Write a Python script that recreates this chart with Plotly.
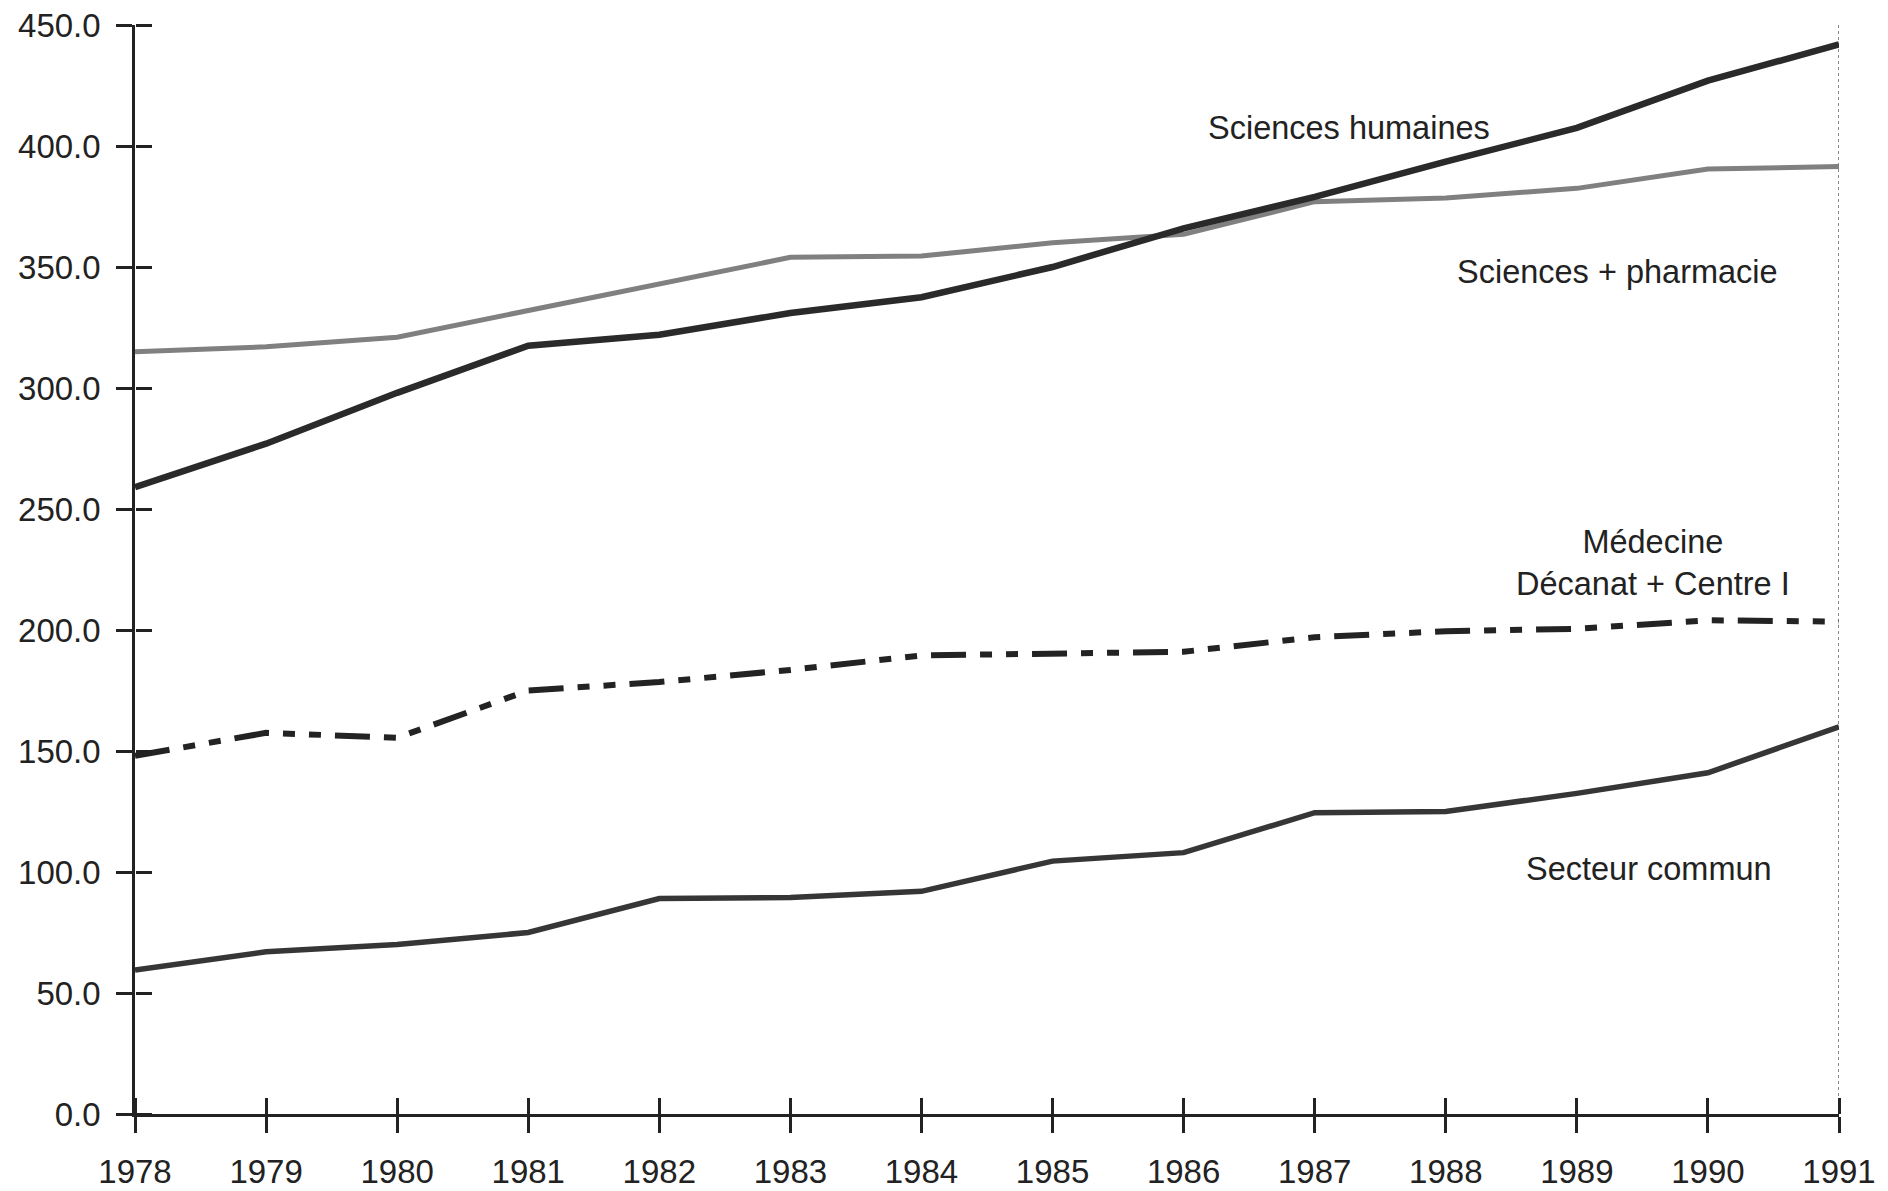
import plotly.graph_objects as go

years = list(range(1978, 1992))

sciences_humaines = [259, 277, 298, 317.5, 322, 331, 337.5, 350, 366, 379, 393.5, 407.5, 427, 442]
sciences_pharmacie = [315, 317, 321, 332, 342.5, 354, 354.5, 360, 363.5, 377, 378.5, 382.5, 390.5, 391.5]
medecine = [148, 157.5, 155.5, 175, 178.5, 183.5, 189.5, 190.5, 191, 197, 199.5, 200.5, 204, 203.5]
secteur_commun = [59.5, 67, 70, 75, 89, 89.5, 92, 104.5, 108, 124.5, 125, 132.5, 141, 160]

y_ticks = [0, 50, 100, 150, 200, 250, 300, 350, 400, 450]

labels = [
    ("Sciences humaines", 1987.26, 407.6),
    ("Sciences + pharmacie", 1989.31, 347.9),
    ("Médecine<br>Décanat + Centre I", 1989.58, 227.6),
    ("Secteur commun", 1989.55, 101.1),
]

FONT = "Liberation Sans, Arial, Helvetica, sans-serif"
INK = "#222222"

xr = [years[0], years[-1]]
yr = [y_ticks[0], y_ticks[-1]]

fig = go.Figure()

# dotted closing rule at the last year
fig.add_trace(go.Scatter(x=[years[-1], years[-1]], y=yr, mode="lines",
                         line=dict(color="#8a8a8a", width=2, dash="dot"),
                         showlegend=False, hoverinfo="skip"))
fig.add_trace(go.Scatter(x=years, y=sciences_pharmacie, mode="lines",
                         line=dict(color="#808080", width=5), showlegend=False))
fig.add_trace(go.Scatter(x=years, y=sciences_humaines, mode="lines",
                         line=dict(color="#2a2a2a", width=6.5), showlegend=False))
fig.add_trace(go.Scatter(x=years, y=medecine, mode="lines",
                         line=dict(color="#232323", width=6,
                                   dash="35px,14px,12px,14px,12px,14px"),
                         showlegend=False))
fig.add_trace(go.Scatter(x=years, y=secteur_commun, mode="lines",
                         line=dict(color="#363636", width=5.5), showlegend=False))
# helper (invisible) trace to activate the overlay axes used for crossing ticks
fig.add_trace(go.Scatter(x=[None], y=[None], xaxis="x2", yaxis="y2",
                         showlegend=False, hoverinfo="skip"))

for text, x, y in labels:
    fig.add_annotation(x=x, y=y, text=text, showarrow=False,
                       font=dict(family=FONT, size=32.5, color=INK),
                       xanchor="center", yanchor="middle", align="center")

fig.update_layout(
    width=1888, height=1191,
    margin=dict(l=135, r=49, t=25, b=77, autoexpand=False),
    paper_bgcolor="white", plot_bgcolor="white",
    font=dict(family=FONT, size=33, color=INK),
    xaxis=dict(range=xr, tickvals=years, ticktext=[str(v) for v in years],
               showgrid=False, zeroline=False, automargin=False,
               ticklabeloverflow="allow",
               showline=True, linecolor=INK, linewidth=2.5,
               ticks="outside", ticklen=16, tickwidth=2.5, tickcolor=INK,
               ticklabelstandoff=11,
               tickfont=dict(family=FONT, size=33, color=INK)),
    yaxis=dict(range=yr, tickvals=y_ticks, tickformat=".1f",
               showgrid=False, zeroline=False, automargin=False,
               ticklabeloverflow="allow",
               showline=True, linecolor=INK, linewidth=2.5,
               ticks="outside", ticklen=16, tickwidth=2.5, tickcolor=INK,
               ticklabelstandoff=9,
               tickfont=dict(family=FONT, size=33, color=INK)),
    xaxis2=dict(range=xr, tickvals=years, overlaying="x", anchor="free", position=0,
                side="top", automargin=False,
                showgrid=False, zeroline=False, showline=False,
                ticks="outside", ticklen=16, tickwidth=2.5, tickcolor=INK,
                showticklabels=False),
    yaxis2=dict(range=yr, tickvals=y_ticks, overlaying="y", anchor="free", position=0,
                side="right", automargin=False,
                showgrid=False, zeroline=False, showline=False,
                ticks="outside", ticklen=16, tickwidth=2.5, tickcolor=INK,
                showticklabels=False),
)

# remove the page's default 8px body margin so the figure fills the window exactly
fig.write_html("out.html",
               config={"displayModeBar": False},
               post_script="document.body.style.margin='0';document.body.style.overflow='hidden';")
